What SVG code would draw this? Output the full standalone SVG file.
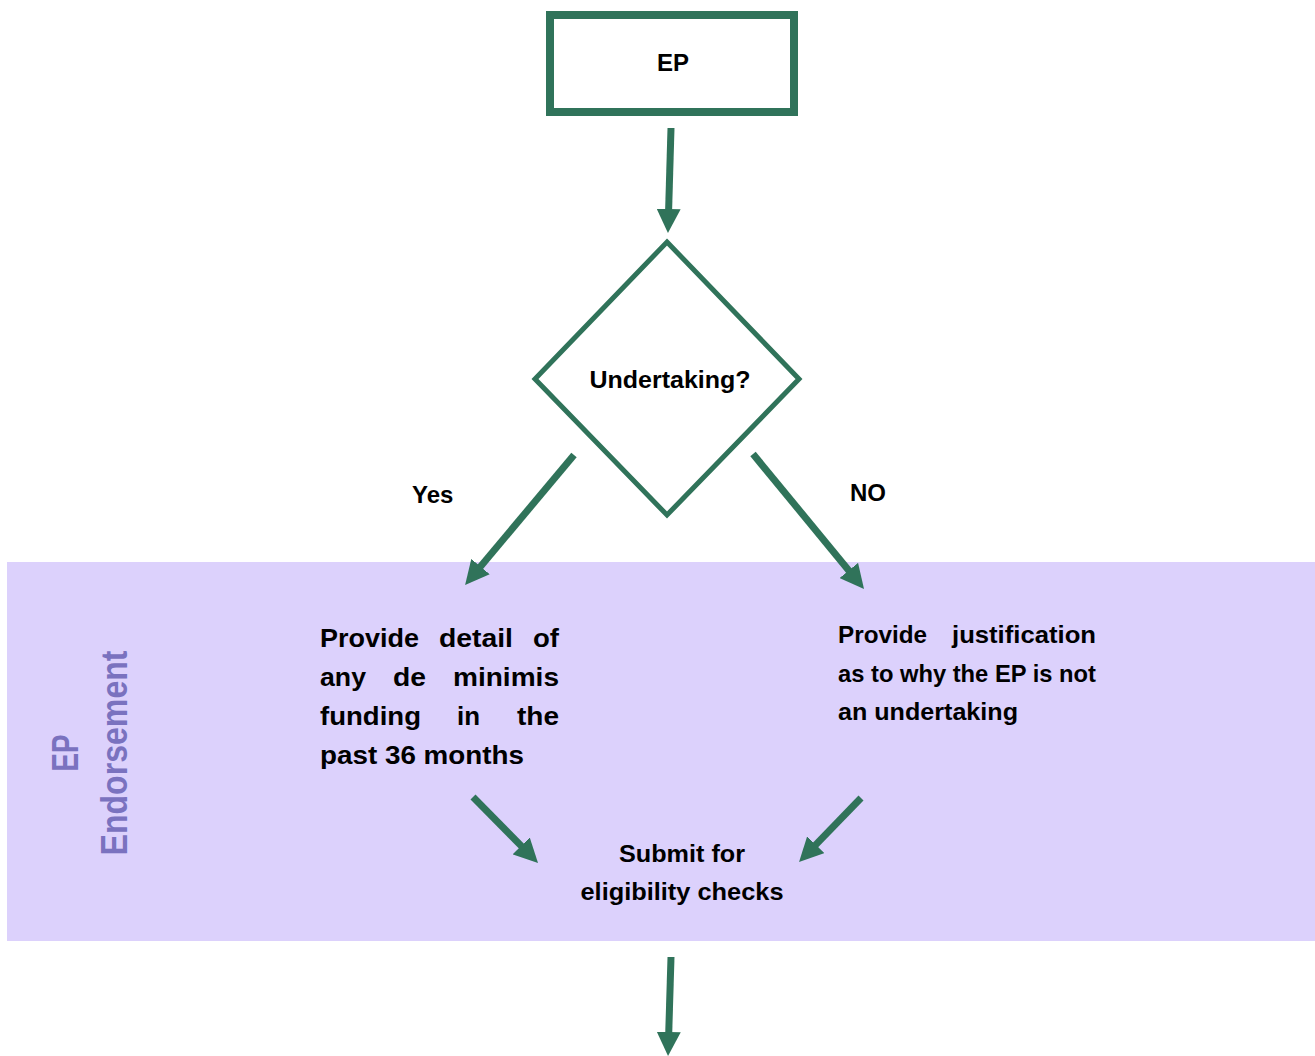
<svg xmlns="http://www.w3.org/2000/svg" width="1315" height="1056" viewBox="0 0 1315 1056">
<style>
.t{font-family:"Liberation Sans",Arial,sans-serif;font-weight:bold;font-size:24px;fill:#000}
.l{font-size:26px}
.c{stroke:#30735A;stroke-width:7;fill:none}
.lane{font-family:"Liberation Sans",Arial,sans-serif;font-weight:bold;font-size:36px;fill:#7A72BF}
</style>
<defs>
<marker id="ah" markerUnits="userSpaceOnUse" viewBox="0 0 24 24" refX="12" refY="12" markerWidth="24" markerHeight="24" orient="auto">
<path d="M0,0 L24,12 L0,24 z" fill="#30735A"/>
</marker>
</defs>
<rect id="band" x="7" y="562" width="1308" height="379" fill="#DCD1FC"/>
<g id="lane-label">
<text class="lane" transform="translate(78,753) rotate(-90)" text-anchor="middle" textLength="37" lengthAdjust="spacingAndGlyphs">EP</text>
<text class="lane" transform="translate(127,753) rotate(-90)" text-anchor="middle" textLength="205" lengthAdjust="spacingAndGlyphs">Endorsement</text>
</g>
<g id="node-ep">
<rect x="550" y="15" width="244" height="97" fill="#fff" stroke="#30735A" stroke-width="8"/>
<text class="t" x="673" y="71" text-anchor="middle">EP</text>
</g>
<g id="node-undertaking">
<polygon points="667,242 799,379 667,515 535,379" fill="#fff" stroke="#30735A" stroke-width="5"/>
<text class="t" x="670" y="388" text-anchor="middle" textLength="161" lengthAdjust="spacingAndGlyphs">Undertaking?</text>
</g>
<g id="node-detail">
<text class="t l" x="320" y="647" textLength="99" lengthAdjust="spacingAndGlyphs">Provide</text>
<text class="t l" x="439" y="647" textLength="74" lengthAdjust="spacingAndGlyphs">detail</text>
<text class="t l" x="533" y="647" textLength="26" lengthAdjust="spacingAndGlyphs">of</text>
<text class="t l" x="320" y="686" textLength="46" lengthAdjust="spacingAndGlyphs">any</text>
<text class="t l" x="393" y="686" textLength="33" lengthAdjust="spacingAndGlyphs">de</text>
<text class="t l" x="453" y="686" textLength="106" lengthAdjust="spacingAndGlyphs">minimis</text>
<text class="t l" x="320" y="725" textLength="101" lengthAdjust="spacingAndGlyphs">funding</text>
<text class="t l" x="457" y="725" textLength="23" lengthAdjust="spacingAndGlyphs">in</text>
<text class="t l" x="517" y="725" textLength="42" lengthAdjust="spacingAndGlyphs">the</text>
<text class="t l" x="320" y="764" textLength="204" lengthAdjust="spacingAndGlyphs">past 36 months</text>
</g>
<g id="node-justification">
<text class="t" x="838" y="643" textLength="89" lengthAdjust="spacingAndGlyphs">Provide</text>
<text class="t" x="952" y="643" textLength="144" lengthAdjust="spacingAndGlyphs">justification</text>
<text class="t" x="838" y="682" textLength="258" lengthAdjust="spacingAndGlyphs">as to why the EP is not</text>
<text class="t" x="838" y="720" textLength="180" lengthAdjust="spacingAndGlyphs">an undertaking</text>
</g>
<g id="node-submit">
<text class="t" x="682" y="862" text-anchor="middle" textLength="126" lengthAdjust="spacingAndGlyphs">Submit for</text>
<text class="t" x="682" y="900" text-anchor="middle" textLength="203" lengthAdjust="spacingAndGlyphs">eligibility checks</text>
</g>
<g id="connectors">
<line class="c" x1="671" y1="128" x2="668.3" y2="221" marker-end="url(#ah)"/>
<line class="c" x1="574" y1="455" x2="472.8" y2="575.8" marker-end="url(#ah)"/>
<line class="c" x1="753" y1="454" x2="856.4" y2="579.7" marker-end="url(#ah)"/>
<line class="c" x1="473" y1="797" x2="529.6" y2="854.4" marker-end="url(#ah)"/>
<line class="c" x1="861" y1="798" x2="807.4" y2="853.4" marker-end="url(#ah)"/>
<line class="c" x1="671" y1="957" x2="668.4" y2="1044" marker-end="url(#ah)"/>
<text class="t" x="412" y="503">Yes</text>
<text class="t" x="850" y="501">NO</text>
</g>
</svg>
